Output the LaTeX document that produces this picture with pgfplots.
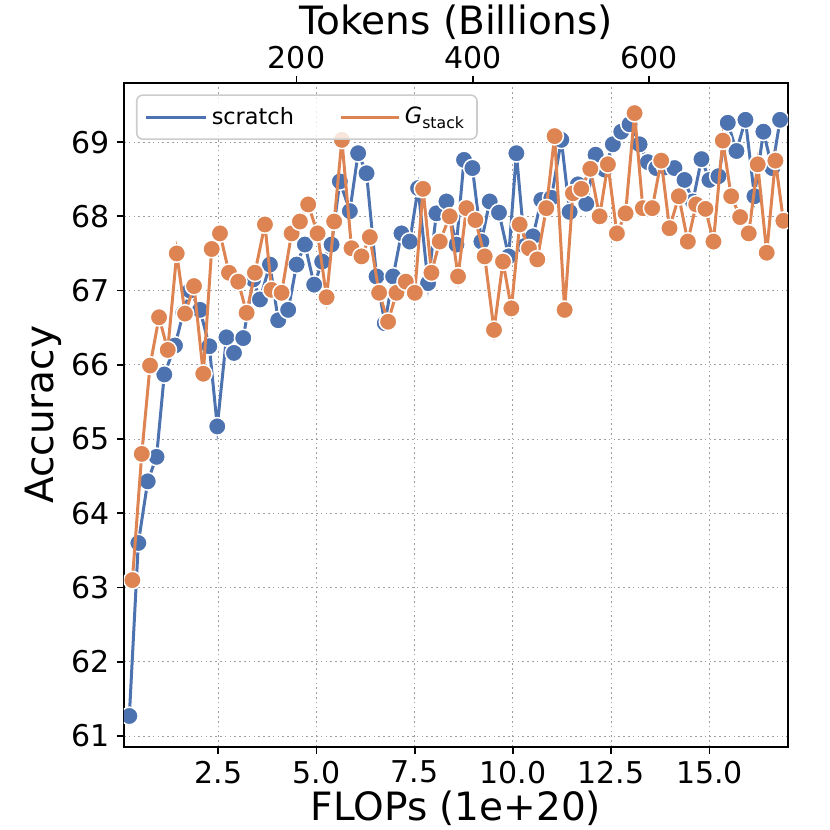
\documentclass[border=0pt]{standalone}
\usepackage{fontspec}
\setmainfont{DejaVu Sans}
\usepackage{pgfplots}
\usepackage{pgfplotstable}
\pgfplotsset{compat=1.18}
\definecolor{sblue}{HTML}{4C72B0}
\definecolor{sorange}{HTML}{DD8452}

\pgfplotstableread{
x y
0.236 61.27
0.465 63.60
0.704 64.43
0.928 64.76
1.126 65.87
1.398 66.26
1.609 66.70
1.780 67.00
2.034 66.74
2.271 66.25
2.474 65.17
2.708 66.37
2.899 66.16
3.135 66.36
3.389 67.15
3.560 66.88
3.814 67.35
4.025 66.60
4.279 66.74
4.493 67.35
4.704 67.62
4.940 67.08
5.144 67.39
5.383 67.62
5.594 68.47
5.848 68.07
6.059 68.85
6.273 68.58
6.527 67.19
6.738 66.56
6.949 67.19
7.162 67.77
7.373 67.66
7.585 68.38
7.839 67.10
8.052 68.04
8.307 68.20
8.561 67.62
8.754 68.76
8.968 68.65
9.197 67.66
9.408 68.20
9.644 68.05
9.891 67.46
10.087 68.85
10.298 67.60
10.509 67.73
10.722 68.22
10.977 68.25
11.231 69.03
11.442 68.06
11.653 68.43
11.866 68.17
12.103 68.83
12.332 68.63
12.542 68.97
12.756 69.14
12.967 69.24
13.222 68.97
13.433 68.73
13.646 68.65
13.883 68.66
14.111 68.65
14.366 68.49
14.577 68.20
14.798 68.77
15.001 68.49
15.230 68.54
15.467 69.26
15.688 68.88
15.917 69.30
16.146 68.27
16.374 69.14
16.598 68.65
16.799 69.30
}\scratch

\pgfplotstableread{
x y
0.313 63.10
0.552 64.80
0.763 65.99
0.992 66.64
1.213 66.20
1.442 67.50
1.653 66.69
1.882 67.06
2.118 65.88
2.332 67.56
2.543 67.77
2.772 67.24
3.008 67.12
3.221 66.70
3.432 67.24
3.687 67.89
3.857 67.01
4.111 66.97
4.366 67.77
4.577 67.93
4.788 68.16
5.027 67.77
5.256 66.91
5.449 67.93
5.645 69.03
5.891 67.57
6.145 67.46
6.357 67.72
6.593 66.97
6.822 66.58
7.035 66.97
7.272 67.12
7.501 66.97
7.712 68.37
7.925 67.24
8.136 67.66
8.391 68.00
8.602 67.19
8.815 68.11
9.044 67.95
9.280 67.46
9.517 66.47
9.746 67.39
9.959 66.76
10.170 67.89
10.407 67.57
10.620 67.42
10.849 68.11
11.060 69.08
11.315 66.74
11.526 68.31
11.739 68.37
11.968 68.64
12.205 68.00
12.416 68.70
12.645 67.77
12.866 68.04
13.095 69.39
13.305 68.11
13.544 68.11
13.773 68.75
13.984 67.84
14.221 68.27
14.450 67.66
14.663 68.16
14.900 68.10
15.103 67.66
15.340 69.02
15.554 68.27
15.782 67.99
16.000 67.77
16.229 68.70
16.458 67.51
16.679 68.75
16.883 67.94
}\gstack

\begin{document}
\begin{tikzpicture}
\useasboundingbox (-62pt,-41.65pt) rectangle (353pt,373.35pt);
\begin{axis}[
  at={(0,0)}, anchor=south west,
  scale only axis, width=332pt, height=332pt,
  xmin=0.10, xmax=17.0, ymin=60.856, ymax=69.80,
  xtick={2.5,5,7.5,10,12.5,15},
  xticklabels={2.5,5.0,7.5,10.0,12.5,15.0},
  ytick={61,62,63,64,65,66,67,68,69},
  xtick pos=bottom, ytick pos=left,
  tick align=outside, major tick length=3.5pt,
  grid=major,
  grid style={gray!75, line width=0.5pt, dash pattern=on 0.8pt off 1.6pt},
  /pgf/number format/assume math mode=true,
  tick label style={font=\fontsize{15}{18}\selectfont},
  label style={font=\fontsize{19.5}{23}\selectfont},
  xlabel={FLOPs (1e+20)}, ylabel={Accuracy},
  xlabel style={yshift=3pt},
  ylabel style={yshift=-2pt},
  axis line style={line width=0.9pt},
  tick style={line width=0.9pt, black},
  clip marker paths=true,
  legend columns=2,
  legend cell align=left,
  legend style={at={(0.018,0.9825)}, anchor=north west,
    draw=black!20, line width=0.8pt, rounded corners=3pt,
    fill=white, fill opacity=0.8, text opacity=1,
    font=\fontsize{11.2}{13}\selectfont,
    inner xsep=4pt, inner ysep=4pt,
    /tikz/every even column/.append style={column sep=21pt}},
]
\addplot[sblue, line width=1.5pt, mark=*, mark size=4.4pt,
  mark options={fill=sblue, draw=white, line width=0.75pt},
  legend image code/.code={\path (0pt,0pt) -- (30pt,0pt);\draw[sblue, line width=1.5pt] (0pt,0pt) -- (24.5pt,0pt);}]
  table[x=x,y=y] {\scratch};
\addlegendentry{scratch}
\addplot[sorange, line width=1.5pt, mark=*, mark size=4.4pt,
  mark options={fill=sorange, draw=white, line width=0.75pt},
  legend image code/.code={\path (0pt,0pt) -- (29pt,0pt);\draw[sorange, line width=1.5pt] (0pt,0pt) -- (24.5pt,0pt);}]
  table[x=x,y=y] {\gstack};
\addlegendentry{{\itshape G}\textsubscript{stack}}
\end{axis}
\begin{axis}[
  at={(0,0)}, anchor=south west,
  scale only axis, width=332pt, height=332pt,
  xmin=4.45, xmax=757.2, ymin=0, ymax=1,
  axis x line*=top, axis y line=none,
  xtick={200,400,600},
  tick align=outside, major tick length=3.5pt,
  /pgf/number format/assume math mode=true,
  tick label style={font=\fontsize{15}{18}\selectfont},
  label style={font=\fontsize{19.5}{23}\selectfont},
  xlabel={Tokens (Billions)},
  xlabel style={yshift=-3.5pt},
  axis line style={line width=0.9pt},
  tick style={line width=0.9pt, black},
]
\addplot[draw=none] coordinates {(200,0.5)};
\end{axis}
\end{tikzpicture}
\end{document}
